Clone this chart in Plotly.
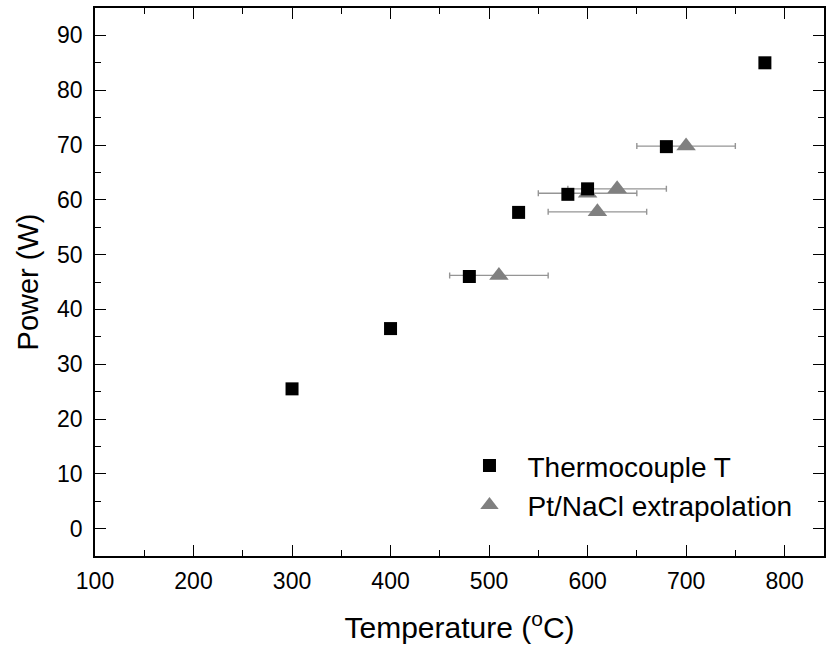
import plotly.graph_objects as go

# Thermocouple T
tc_temp = [300, 400, 480, 530, 580, 600, 680, 780]
tc_power = [25.5, 36.5, 46.0, 57.7, 61.0, 62.0, 69.7, 85.0]

# Pt/NaCl extrapolation
pt_temp = [510, 600, 610, 630, 700]
pt_power = [46.2, 61.2, 57.8, 62.0, 69.8]
pt_err = [50, 50, 50, 50, 50]

FONT = "Liberation Sans, Arial, sans-serif"

fig = go.Figure()
fig.add_trace(go.Scatter(
    x=pt_temp, y=pt_power, mode="markers", name="Pt/NaCl extrapolation",
    marker=dict(symbol="triangle-up", size=17, color="#808080"),
    error_x=dict(type="data", array=pt_err, color="#959595", thickness=1.4, width=3),
    showlegend=False,
))
fig.add_trace(go.Scatter(
    x=tc_temp, y=tc_power, mode="markers", name="Thermocouple T",
    marker=dict(symbol="square", size=13, color="black"),
))
fig.add_trace(go.Scatter(
    x=[None], y=[None], mode="markers", name="Pt/NaCl extrapolation",
    marker=dict(symbol="triangle-up", size=16, color="#808080"),
))

axis_common = dict(
    showline=True, linecolor="black", linewidth=1.6, mirror="ticks",
    ticks="inside", ticklen=11, tickwidth=1.4, tickcolor="black",
    showgrid=False, zeroline=False,
    tickfont=dict(family=FONT, size=23, color="black"),
)

fig.update_xaxes(
    range=[100, 840], dtick=100, tick0=100,
    title=dict(text="Temperature (<sup>o</sup>C)", font=dict(family=FONT, size=30, color="black"), standoff=24),
    minor=dict(dtick=50, ticks="inside", ticklen=6, tickcolor="black", tickwidth=1.3),
    ticklabelstandoff=4,
    **axis_common,
)
fig.update_yaxes(
    range=[-5, 95], dtick=10, tick0=0,
    title=dict(text="Power (W)", font=dict(family=FONT, size=29, color="black"), standoff=10),
    minor=dict(dtick=5, ticks="inside", ticklen=6, tickcolor="black", tickwidth=1.3),
    ticklabelstandoff=6,
    **axis_common,
)

fig.update_layout(
    width=829, height=646,
    margin=dict(l=95, r=3, t=8, b=90),
    plot_bgcolor="white", paper_bgcolor="white",
    font=dict(family=FONT, color="black"),
    legend=dict(x=0.489, y=0.21, xanchor="left", yanchor="top",
                bgcolor="rgba(0,0,0,0)", font=dict(family=FONT, size=28, color="black"),
                itemwidth=66, tracegroupgap=0),
)

fig.write_html("out.html")
